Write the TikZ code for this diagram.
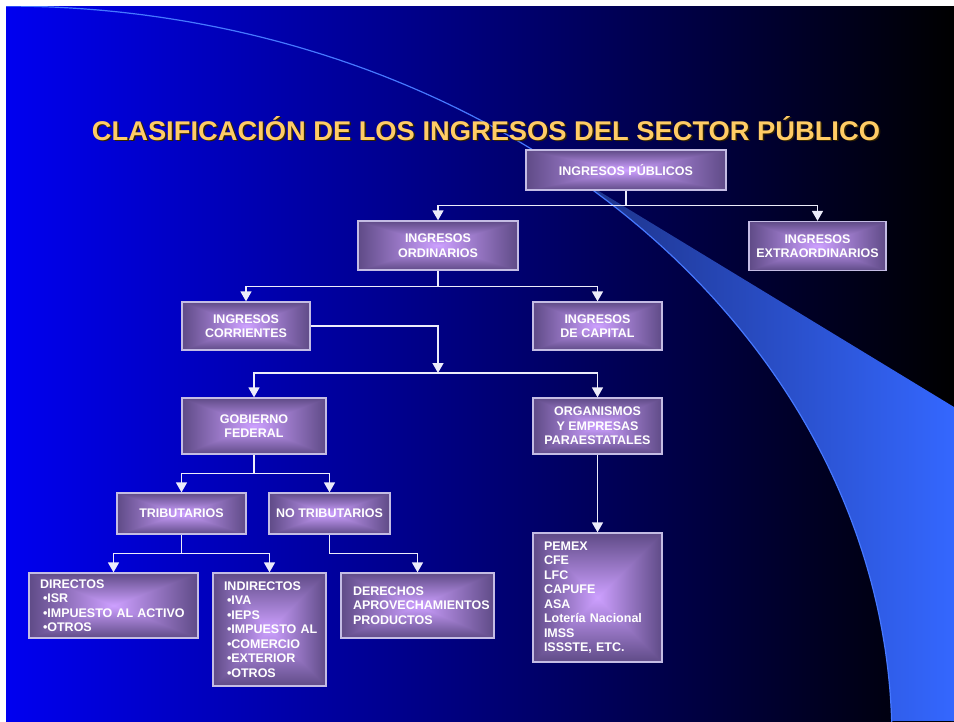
\documentclass[tikz,border=0pt]{standalone}
\usepackage{fontspec}
\setmainfont{Liberation Sans}
\usepackage{graphicx}
\usetikzlibrary{arrows.meta}
\definecolor{bgA}{RGB}{0,0,240}
\definecolor{bgB}{RGB}{0,0,200}
\definecolor{swA}{RGB}{30,52,140}
\definecolor{swB}{RGB}{52,103,255}
\definecolor{arcc}{RGB}{70,120,255}
\definecolor{boxborder}{RGB}{196,188,228}
\definecolor{linec}{RGB}{236,236,250}
\definecolor{titlec}{RGB}{255,204,102}
\definecolor{titlesh}{RGB}{50,35,0}
\pgfdeclarefunctionalshading{framegrad}{\pgfpoint{0bp}{0bp}}{\pgfpoint{100bp}{100bp}}{}{
50 sub abs exch 50 sub abs
2 copy lt {exch} if pop
25 div dup 1 gt {pop 1} if
dup dup
-0.471 mul 1.0 add
3 1 roll
-0.333 mul 0.627 add
3 1 roll
-0.431 mul 0.804 add
3 1 roll
}
\tikzset{
  box/.style={draw=boxborder, line width=1.3pt, shading=framegrad, text=white,
    font=\bfseries\fontsize{12.5}{14.5}\selectfont, inner sep=0pt, align=center},
  listbox/.style={box, align=left, inner ysep=0pt},
  conn/.style={draw=linec, line width=1.5pt},
  arr/.style={-{Triangle[width=11pt,length=10pt]}}
}
\newcommand{\titletext}{CLASIFICACIÓN DE LOS INGRESOS DEL SECTOR PÚBLICO}
\newcommand{\bul}[1]{\mbox{\hspace*{3pt}•#1}}
\begin{document}
\begin{tikzpicture}[x=1pt,y=-1pt]
\useasboundingbox (0,0) rectangle (954,721);
\fill[white] (0,0) rectangle (954,721);
% background
\shade[left color=bgA, middle color=bgB, right color=black] (6,6) rectangle (954,721);
% swoosh
\shade[left color=swA, right color=swB] (597,190) -- (954,407) -- (954,721)
  -- plot[domain=1.5:48.5, samples=80] ({6+886*cos(\x)},{740-734*sin(\x)}) -- cycle;
% thin arc
\begin{scope}
\clip (6,6) rectangle (954,721);
\draw[arcc, line width=1.2pt] plot[domain=1:90, samples=150] ({6+886*cos(\x)},{740-734*sin(\x)});
\end{scope}
% title
\node[anchor=base, text=titlesh, inner sep=0pt] (titlesh) at (487.5,141.5)
  {\resizebox{788pt}{24pt}{\bfseries\titletext}};
\node[anchor=base, text=titlec, inner sep=0pt] (title) at (486,140)
  {\resizebox{788pt}{24pt}{\bfseries\titletext}};
% boxes
\node[box, minimum width=200pt, minimum height=40pt] (pub) at (626,170) {INGRESOS PÚBLICOS};
\node[box, minimum width=160pt, minimum height=49pt] (ord) at (438,245.5) {INGRESOS\\ORDINARIOS};
\node[box, minimum width=137pt, minimum height=49pt] (ext) at (817.5,246) {INGRESOS\\EXTRAORDINARIOS};
\node[box, minimum width=128pt, minimum height=48pt] (cor) at (246,326) {INGRESOS\\CORRIENTES};
\node[box, minimum width=129pt, minimum height=48pt] (cap) at (597.5,326) {INGRESOS\\DE CAPITAL};
\node[box, minimum width=144pt, minimum height=56pt] (gob) at (254,426) {GOBIERNO\\FEDERAL};
\node[box, minimum width=129pt, minimum height=56pt] (org) at (597.5,426) {ORGANISMOS\\Y EMPRESAS\\PARAESTATALES};
\node[box, minimum width=129pt, minimum height=41pt] (trib) at (181.5,513.5) {TRIBUTARIOS};
\node[box, minimum width=121pt, minimum height=41pt] (notrib) at (329.5,513.5) {NO TRIBUTARIOS};
\node[listbox, text width=147pt, inner xsep=11pt, minimum height=65pt] (dir) at (113.5,605.5)
  {DIRECTOS\\\bul{ISR}\\\bul{IMPUESTO AL ACTIVO}\\\bul{OTROS}};
\node[listbox, text width=91pt, inner xsep=11pt, minimum height=113pt] (ind) at (269.5,629.5)
  {INDIRECTOS\\\bul{IVA}\\\bul{IEPS}\\\bul{IMPUESTO AL}\\\bul{COMERCIO}\\\bul{EXTERIOR}\\\bul{OTROS}};
\node[listbox, text width=129pt, inner xsep=12pt, minimum height=65pt] (der) at (417.5,605.5)
  {DERECHOS\\APROVECHAMIENTOS\\PRODUCTOS};
\node[listbox, text width=107pt, inner xsep=11pt, minimum height=129pt] (pem) at (597.5,597.5)
  {PEMEX\\CFE\\LFC\\CAPUFE\\ASA\\Lotería Nacional\\IMSS\\ISSSTE, ETC.};
% connectors
\draw[conn] (pub.south) -- ++(0,15) coordinate (j1);
\draw[conn, arr] (j1) -| (ord.north);
\draw[conn, arr] (j1) -| (ext.north);
\draw[conn] (ord.south) -- ++(0,16) coordinate (j2);
\draw[conn, arr] (j2) -| (cor.north);
\draw[conn, arr] (j2) -| (cap.north);
\coordinate (j3) at (438,373);
\draw[conn, arr] (cor.east) -| (j3);
\draw[conn, arr] (j3) -| (gob.north);
\draw[conn, arr] (j3) -| (org.north);
\draw[conn] (gob.south) -- ++(0,19) coordinate (j4);
\draw[conn, arr] (j4) -| (trib.north);
\draw[conn, arr] (j4) -| (notrib.north);
\draw[conn] (trib.south) -- ++(0,19) coordinate (j5);
\draw[conn, arr] (j5) -| (dir.north);
\draw[conn, arr] (j5) -| (ind.north);
\draw[conn, arr] (notrib.south) -- ++(0,19) -| (der.north);
\draw[conn, arr] (org.south) -- (pem.north);
\end{tikzpicture}
\end{document}
